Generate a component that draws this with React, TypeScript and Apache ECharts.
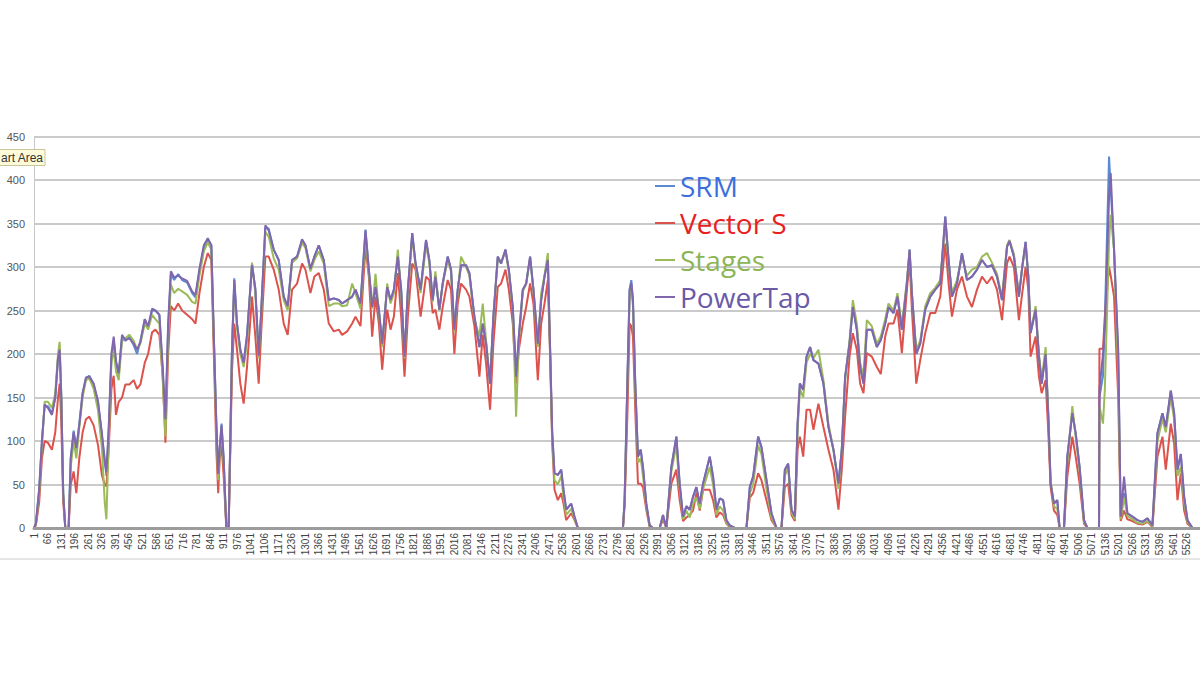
import React, { useEffect, useRef } from "react";
import * as echarts from "echarts";

// sample index (x position in recording) at which each value was read
const samples = [
  1, 10, 26, 39, 52, 68, 87, 103, 116, 124,
  132, 141, 151, 167, 177, 191, 204, 218, 234, 250,
  266, 287, 308, 327, 340, 348, 359, 372, 383, 394,
  407, 423, 439, 458, 479, 495, 511, 532, 548, 567,
  583, 602, 618, 631, 644, 657, 673, 692, 711, 735,
  759, 775, 794, 815, 834, 851, 863, 875, 884, 891,
  900, 910, 923, 934, 950, 961, 974, 990, 1006, 1022,
  1046, 1062, 1078, 1089, 1110, 1126, 1150, 1174, 1198, 1217,
  1238, 1262, 1286, 1302, 1326, 1345, 1366, 1390, 1414, 1438,
  1462, 1478, 1502, 1526, 1542, 1566, 1590, 1606, 1622, 1638,
  1654, 1670, 1694, 1710, 1726, 1745, 1761, 1777, 1793, 1814,
  1830, 1854, 1880, 1896, 1912, 1925, 1944, 1960, 1984, 2000,
  2016, 2032, 2048, 2072, 2088, 2112, 2136, 2152, 2168, 2187,
  2203, 2224, 2240, 2261, 2277, 2296, 2312, 2325, 2344, 2360,
  2379, 2395, 2416, 2432, 2448, 2464, 2475, 2485, 2496, 2512,
  2528, 2539, 2552, 2576, 2592, 2608, 2824, 2832, 2845, 2856,
  2864, 2872, 2883, 2896, 2909, 2920, 2936, 2952, 2968, 3000,
  3016, 3032, 3056, 3080, 3096, 3112, 3128, 3144, 3160, 3176,
  3192, 3208, 3240, 3256, 3272, 3288, 3304, 3320, 3336, 3360,
  3416, 3432, 3448, 3472, 3488, 3512, 3536, 3560, 3584, 3600,
  3616, 3632, 3648, 3661, 3672, 3688, 3704, 3721, 3737, 3761,
  3785, 3809, 3833, 3857, 3873, 3889, 3910, 3926, 3945, 3961,
  3977, 3993, 4017, 4041, 4060, 4081, 4097, 4121, 4140, 4161,
  4185, 4198, 4209, 4230, 4249, 4273, 4297, 4321, 4345, 4369,
  4385, 4401, 4425, 4449, 4473, 4497, 4521, 4545, 4569, 4593,
  4617, 4641, 4665, 4677, 4698, 4722, 4738, 4754, 4767, 4778,
  4802, 4818, 4831, 4850, 4863, 4874, 4890, 4906, 4917, 4938,
  4954, 4978, 4994, 5013, 5034, 5050, 5106, 5108, 5125, 5134,
  5154, 5162, 5178, 5198, 5210, 5226, 5242, 5266, 5290, 5314,
  5338, 5362, 5386, 5410, 5426, 5450, 5466, 5482, 5498, 5514,
  5530, 5554, 5589,
];

const srm = [
  0, 5, 45, 100, 140, 140, 132, 150, 195, 205,
  150, 40, 0, 0, 80, 112, 90, 120, 155, 172,
  175, 165, 145, 105, 80, 60, 110, 195, 215, 190,
  175, 220, 215, 220, 210, 200, 215, 240, 230, 250,
  250, 245, 180, 120, 230, 292, 285, 292, 285, 282,
  270, 265, 295, 322, 332, 325, 220, 120, 60, 90,
  120, 80, 0, 0, 205, 287, 235, 205, 189, 220,
  304, 274, 197, 243, 346, 344, 320, 308, 266, 254,
  308, 312, 331, 325, 297, 312, 325, 308, 262, 264,
  262, 258, 262, 266, 274, 258, 343, 297, 254, 277,
  251, 212, 277, 262, 274, 312, 274, 197, 274, 339,
  304, 274, 331, 308, 262, 289, 251, 281, 312, 297,
  228, 274, 302, 302, 293, 243, 208, 235, 212, 166,
  243, 312, 304, 320, 297, 254, 174, 220, 274, 281,
  312, 274, 212, 262, 289, 308, 205, 109, 63, 61,
  67, 44, 21, 28, 13, 0, 0, 32, 166, 274,
  285, 262, 166, 82, 90, 70, 28, 3, 0, 0,
  15, 0, 70, 105, 51, 13, 25, 21, 36, 47,
  28, 51, 82, 59, 21, 34, 32, 9, 3, 0,
  0, 47, 59, 105, 93, 55, 17, 0, 0, 67,
  74, 21, 13, 120, 166, 159, 197, 208, 193, 189,
  166, 116, 90, 51, 90, 174, 212, 254, 228, 185,
  166, 228, 228, 208, 216, 235, 254, 247, 266, 228,
  281, 320, 270, 200, 212, 251, 266, 274, 281, 358,
  308, 266, 281, 316, 285, 289, 297, 308, 300, 302,
  289, 262, 323, 330, 312, 266, 300, 329, 289, 224,
  251, 197, 166, 200, 128, 51, 28, 32, 0, 0,
  82, 132, 109, 70, 9, 0, 0, 150, 175, 240,
  427, 390, 320, 197, 13, 40, 17, 13, 9, 7,
  11, 3, 109, 132, 116, 158, 132, 67, 85, 36,
  9, 0, 0,
];

const vectorS = [
  0, 3, 30, 80, 100, 98, 90, 110, 150, 166,
  120, 30, 0, 0, 50, 65, 40, 80, 110, 125,
  128, 118, 95, 60, 50, 48, 90, 160, 175, 130,
  145, 150, 165, 165, 170, 160, 165, 190, 200, 225,
  228, 222, 175, 98, 200, 255, 250, 258, 250, 245,
  240, 235, 270, 300, 316, 308, 200, 90, 40, 80,
  95, 60, 0, 0, 180, 235, 205, 166, 143, 185,
  266, 220, 166, 220, 312, 312, 297, 274, 235, 222,
  274, 281, 304, 297, 270, 289, 293, 274, 235, 226,
  228, 222, 226, 235, 243, 232, 323, 289, 220, 266,
  235, 182, 251, 228, 243, 293, 243, 174, 243, 304,
  297, 243, 289, 285, 247, 251, 228, 254, 285, 274,
  200, 258, 281, 274, 266, 232, 174, 222, 189, 136,
  212, 277, 281, 297, 274, 235, 166, 205, 235, 254,
  281, 258, 170, 235, 258, 285, 197, 97, 44, 32,
  40, 28, 9, 17, 9, 0, 0, 25, 128, 235,
  232, 220, 136, 51, 51, 47, 21, 1, 0, 0,
  10, 0, 51, 67, 32, 8, 12, 15, 20, 40,
  20, 44, 44, 32, 12, 18, 15, 5, 1, 0,
  0, 35, 40, 63, 55, 32, 9, 0, 0, 47,
  51, 15, 8, 90, 105, 82, 136, 136, 113, 143,
  116, 90, 67, 21, 67, 128, 197, 224, 205, 166,
  155, 201, 197, 185, 177, 220, 235, 235, 251, 201,
  274, 308, 251, 166, 193, 224, 247, 247, 266, 327,
  281, 243, 274, 289, 266, 254, 274, 289, 281, 289,
  274, 239, 304, 312, 300, 239, 270, 300, 274, 197,
  220, 174, 155, 170, 110, 47, 20, 15, 0, 0,
  59, 105, 82, 51, 5, 0, 0, 206, 206, 243,
  300, 290, 266, 150, 8, 20, 10, 8, 5, 4,
  7, 1, 82, 105, 67, 120, 97, 32, 63, 20,
  5, 0, 0,
];

const stages = [
  0, 4, 40, 95, 145, 145, 138, 155, 200, 214,
  150, 40, 0, 0, 70, 100, 80, 115, 150, 170,
  172, 160, 135, 90, 30, 10, 100, 190, 205, 180,
  170, 215, 218, 222, 215, 205, 212, 235, 228, 245,
  240, 235, 170, 105, 220, 280, 270, 275, 272, 268,
  260, 258, 290, 318, 328, 320, 215, 110, 55, 85,
  115, 75, 0, 0, 200, 280, 230, 200, 185, 215,
  305, 270, 195, 240, 340, 335, 310, 297, 262, 250,
  305, 310, 328, 322, 295, 308, 318, 304, 255, 258,
  258, 255, 256, 281, 270, 252, 335, 292, 252, 292,
  248, 208, 281, 258, 270, 320, 270, 195, 270, 335,
  300, 270, 325, 305, 260, 295, 250, 280, 308, 295,
  225, 270, 312, 300, 290, 240, 220, 258, 215, 168,
  240, 310, 306, 318, 295, 250, 128, 215, 272, 280,
  310, 272, 208, 270, 290, 316, 200, 100, 55, 50,
  60, 35, 15, 22, 10, 0, 0, 30, 160, 265,
  275, 255, 160, 75, 80, 60, 25, 2, 0, 0,
  12, 0, 65, 95, 45, 10, 20, 12, 28, 35,
  22, 45, 70, 50, 15, 25, 20, 6, 2, 0,
  0, 40, 50, 95, 85, 45, 12, 0, 0, 60,
  70, 18, 10, 110, 160, 150, 190, 200, 195, 205,
  170, 120, 90, 45, 90, 170, 215, 262, 235, 190,
  175, 239, 232, 212, 220, 240, 258, 250, 270, 232,
  285, 318, 268, 205, 215, 255, 270, 276, 285, 350,
  305, 270, 285, 312, 290, 297, 300, 312, 316, 305,
  292, 265, 325, 331, 315, 268, 300, 325, 290, 225,
  255, 200, 170, 208, 130, 55, 25, 22, 0, 0,
  75, 140, 105, 65, 7, 0, 0, 140, 120, 160,
  330, 360, 320, 180, 10, 35, 14, 10, 6, 5,
  8, 2, 100, 125, 110, 150, 125, 60, 70, 30,
  7, 0, 0,
];

const powerTap = [
  0, 5, 45, 100, 142, 138, 130, 150, 195, 205,
  150, 40, 0, 0, 80, 110, 92, 118, 155, 173,
  174, 166, 145, 108, 75, 65, 115, 200, 220, 192,
  178, 222, 216, 218, 212, 205, 214, 240, 232, 252,
  250, 245, 185, 125, 235, 295, 288, 290, 287, 284,
  272, 268, 298, 325, 333, 325, 220, 120, 62, 92,
  118, 80, 0, 0, 205, 285, 235, 205, 190, 222,
  302, 275, 198, 245, 348, 342, 320, 308, 266, 255,
  308, 312, 332, 325, 298, 312, 325, 308, 262, 264,
  262, 258, 262, 266, 274, 258, 342, 297, 254, 277,
  251, 212, 277, 262, 274, 312, 274, 197, 274, 339,
  304, 274, 331, 308, 262, 289, 251, 281, 312, 297,
  228, 274, 302, 302, 293, 243, 208, 235, 212, 166,
  243, 312, 304, 320, 297, 254, 174, 220, 274, 281,
  312, 274, 212, 262, 289, 308, 205, 109, 63, 61,
  67, 44, 21, 28, 13, 0, 0, 32, 166, 274,
  282, 262, 166, 82, 90, 70, 28, 3, 0, 0,
  15, 0, 70, 105, 51, 13, 25, 21, 36, 47,
  28, 51, 82, 59, 21, 34, 32, 9, 3, 0,
  0, 47, 59, 105, 93, 55, 17, 0, 0, 67,
  74, 21, 13, 120, 166, 159, 197, 208, 193, 189,
  166, 116, 90, 51, 90, 174, 212, 254, 228, 185,
  166, 228, 228, 208, 216, 235, 254, 247, 266, 228,
  281, 320, 270, 200, 212, 251, 266, 274, 281, 358,
  308, 266, 281, 316, 285, 289, 297, 308, 300, 302,
  289, 262, 323, 330, 312, 266, 300, 329, 289, 224,
  251, 197, 166, 200, 128, 51, 28, 32, 0, 0,
  82, 132, 109, 70, 9, 0, 0, 160, 200, 230,
  380, 408, 320, 205, 13, 59, 17, 13, 9, 7,
  11, 3, 109, 132, 116, 158, 132, 67, 85, 36,
  9, 0, 0,
];

const seriesNames = ["SRM", "Vector S", "Stages", "PowerTap"];
const lineColors = ["#5a8ad2", "#dc524c", "#9bbb59", "#8066ad"];
const legendTextColors = ["#3b6fe0", "#e8201e", "#8cb556", "#6a5aa8"];

export default function App() {
  const ref = useRef<HTMLDivElement>(null);

  useEffect(() => {
    const chart = echarts.init(ref.current as HTMLDivElement, null, { renderer: "svg" });
    const values = [srm, vectorS, stages, powerTap];
    const toPairs = (vals: number[]) => samples.map((s, i) => [s - 1, vals[i]]);

    chart.setOption({
      animation: false,
      backgroundColor: "#ffffff",
      grid: { left: 34, right: 0, top: 136.5, bottom: 147, containLabel: false },
      xAxis: {
        type: "value",
        min: 0,
        max: 5589,
        interval: 65,
        z: 10,
        axisLine: { show: true, lineStyle: { color: "#9c9c9c", width: 3 } },
        axisTick: { show: false },
        splitLine: { show: false },
        axisLabel: {
          rotate: 90,
          fontSize: 10,
          color: "#444444",
          margin: 5,
          fontFamily: "Liberation Sans",
          showMaxLabel: false,
          formatter: (v: number) => String(v + 1),
        },
      },
      yAxis: {
        type: "value",
        min: 0,
        max: 450,
        interval: 50,
        axisLine: { show: true, lineStyle: { color: "#c8c8c8", width: 1 } },
        axisTick: { show: false },
        splitLine: { lineStyle: { color: "#b9b9b9", width: 1.5 } },
        axisLabel: { fontSize: 11, color: "#555555", margin: 9, fontFamily: "Liberation Sans" },
      },
      legend: {
        orient: "vertical",
        left: 655,
        top: 172,
        padding: 0,
        itemWidth: 20,
        itemHeight: 2,
        itemGap: 9,
        icon: "rect",
        textStyle: { fontSize: 28, fontFamily: "Open Sans" },
        data: seriesNames.map((n, i) => ({ name: n, textStyle: { color: legendTextColors[i] } })),
      },
      series: seriesNames.map((n, i) => ({
        name: n,
        type: "line",
        showSymbol: false,
        symbol: "none",
        data: toPairs(values[i]),
        lineStyle: { color: lineColors[i], width: 2 },
        itemStyle: { color: lineColors[i] },
        z: 2 + i,
      })),
      graphic: [
        {
          type: "line",
          shape: { x1: 0, y1: 559, x2: 1200, y2: 559 },
          style: { stroke: "#cccccc", lineWidth: 1 },
        },
        {
          type: "rect",
          shape: { x: -1, y: 149.5, width: 46, height: 16 },
          style: { fill: "#fdfbd8", stroke: "#c9c49c", lineWidth: 1 },
          z: 100,
        },
        {
          type: "text",
          x: 1,
          y: 158,
          style: { text: "art Area", fontSize: 12, fill: "#333333", fontFamily: "Liberation Sans", verticalAlign: "middle" },
          z: 101,
        },
      ],
    });
    return () => chart.dispose();
  }, []);

  return <div ref={ref} style={{ position: "fixed", left: 0, top: 0, width: 1200, height: 675 }} />;
}
